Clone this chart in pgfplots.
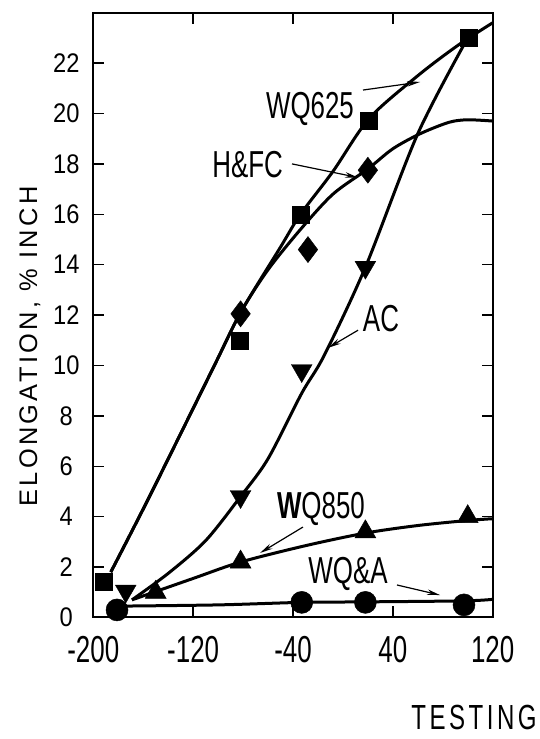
\documentclass[border=0pt]{standalone}
\usepackage{pgfplots}
\pgfplotsset{compat=1.18}
\usetikzlibrary{arrows.meta}
\usepackage{fontspec}
\setmainfont{Liberation Sans}
\newfontfamily\condfont{Liberation Sans}[FakeStretch=0.69]
\newfontfamily\ytfont{Liberation Sans}[FakeStretch=0.88]
\newfontfamily\spacedfont{Liberation Sans}[LetterSpace=13]
\newfontfamily\testfont{Liberation Sans}[FakeStretch=0.69,LetterSpace=10]
\newcommand\xtf{\condfont\fontsize{37.7}{40}\selectfont}
\newcommand\ytf{\ytfont\fontsize{27}{29}\selectfont}
\tikzset{
  lab/.style={font=\xtf, inner sep=0pt},
  arr/.style={line width=1.2bp, -{Stealth[length=13bp,width=5.5bp]}},
}
\begin{document}
\begin{tikzpicture}
\useasboundingbox (0,0) rectangle (540bp,739bp);
\begin{axis}[
  at={(93.3bp,121.5bp)}, anchor=south west, scale only axis,
  width=399.4bp, height=604.8bp,
  xmin=-200, xmax=120, ymin=0, ymax=24,
  xtick={-200,-120,-40,40,120}, xticklabels={-200,-120,-40,40,120},
  ytick={0,2,4,6,8,10,12,14,16,18,20,22},
  yticklabels={0,2,4,6,8,10,12,14,16,18,20,22},
  tick align=inside, major tick length=11bp,
  axis line style={line width=2bp},
  every tick/.style={line width=1.5bp, black},
  xticklabel style={font=\xtf, inner sep=0pt, anchor=center, yshift=-32.5bp},
  yticklabel style={font=\ytf, inner sep=0pt, anchor=center, xshift=-27bp},
  clip=false,
  curve/.style={smooth, line width=3bp, black, no marks},
  pts/.style={only marks, black, mark options={fill=black, draw=black, line width=0.5bp}},
]
% ---- curves ----
% WQ625
\addplot[curve] coordinates {(-186,1.8) (-156,4.7) (-104,9.9) (-82,12.1) (-50,14.7) (-34,16.0) (-8,17.7) (21,19.8) (60,21.5) (92,22.7) (120,23.6)};
% H&FC
\addplot[curve] coordinates {(-186,1.8) (-156,4.7) (-104,9.9) (-82,12.1) (-60,13.8) (-34,15.4) (-8,16.8) (20,17.8) (40,18.6) (62,19.2) (85,19.65) (100,19.75) (120,19.7)};
% AC
\addplot[curve] coordinates {(-169,0.7) (-140,1.75) (-110,3.05) (-82,4.8) (-60,6.3) (-33,8.9) (-15,10.4) (18,13.9) (60,19.2) (100,23.0)};
% WQ850
\addplot[curve] coordinates {(-169,0.7) (-120,1.55) (-82,2.2) (-30,2.85) (18,3.35) (60,3.65) (100,3.85) (120,3.92)};
% WQ&A
\addplot[curve] coordinates {(-181,0.45) (-100,0.5) (-33,0.6) (18,0.62) (97,0.66) (120,0.72)};
% ---- points ----
\addplot[pts, mark=square*, mark size=8.5bp] coordinates {(-192,1.4) (-83,11.0) (-34,16.0) (21,19.7) (101,23.0)};
\addplot[pts, mark=diamond*, mark size=13bp] coordinates {(-82,12.05) (-28,14.6) (20,17.75)};
\addplot[pts, mark=triangle*, mark size=12bp, mark options={rotate=180}] coordinates {(-174,1.05) (-82,4.8) (-33,9.8) (18,13.9)};
\addplot[pts, mark=triangle*, mark size=12bp] coordinates {(-150,1.0) (-82,2.2) (18,3.4) (100,4.0)};
\addplot[pts, mark=*, mark size=11bp] coordinates {(-181,0.3) (-33,0.6) (18,0.6) (97,0.5)};
% ---- annotations ----
\node[lab] at (axis cs:-26.4,20.2) {WQ625};
\draw[arr] (axis cs:16.1,20.93) -- (axis cs:61.8,21.25);
\node[lab] at (axis cs:-76.4,17.96) {H\&FC};
\draw[arr] (axis cs:-40.8,18.0) -- (axis cs:12.1,17.46);
\node[lab] at (axis cs:30.5,11.85) {AC};
\draw[arr] (axis cs:12.1,11.4) -- (axis cs:-11.9,10.7);
\node[lab] at (axis cs:-17.6,4.3) {{\bfseries W}Q850};
\draw[arr] (axis cs:-32,3.59) -- (axis cs:-66.4,2.56);
\node[lab] at (axis cs:4.1,1.73) {WQ\&A};
\draw[arr] (axis cs:43.3,1.29) -- (axis cs:77.8,0.89);
\end{axis}
\node[rotate=90, font=\spacedfont\fontsize{25.5}{27}\selectfont, inner sep=0pt] at (30bp,392.5bp) {ELONGATION, \% INCH};
\node[font=\testfont\fontsize{35}{36}\selectfont, inner sep=0pt] at (474bp,21.5bp) {TESTING};
\end{tikzpicture}
\end{document}
